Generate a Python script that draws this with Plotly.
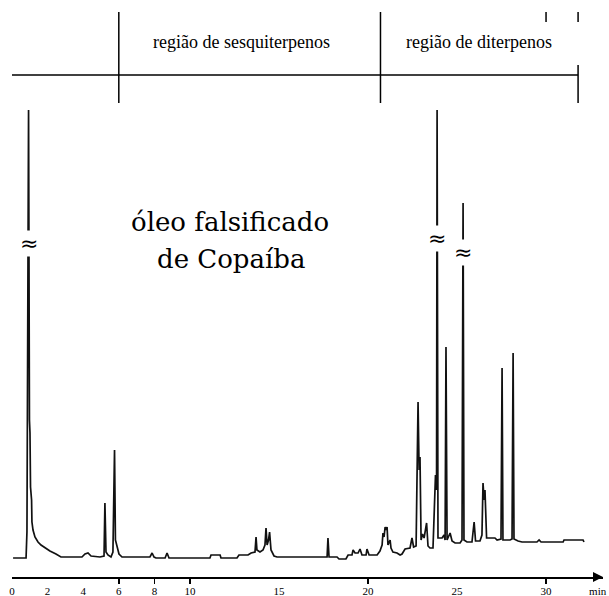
import plotly.graph_objects as go

# ---- chromatogram data (time in min, detector signal in arbitrary units) ----
time_min = [0.06, 0.79, 0.84, 0.93, 0.98, 1.01, 1.04, 1.10, 1.12, 1.18, 1.29, 1.46, 1.63, 1.85,
            2.13, 2.47, 2.75, 3.93, 4.10, 4.27, 4.44, 4.94, 5.17, 5.22, 5.28, 5.39, 5.56, 5.67,
            5.76, 5.81, 5.90, 6.01, 6.18, 7.75, 7.87, 7.98, 8.09, 8.60, 8.71, 8.82, 11.12, 11.18,
            11.69, 11.74, 12.64, 12.75, 13.26, 13.43, 13.65, 13.71, 13.76, 13.93, 14.10, 14.21,
            14.27, 14.33, 14.41, 14.47, 14.55, 14.72, 14.89, 17.70, 17.75, 17.81, 18.26, 18.37,
            18.76, 18.88, 19.10, 19.16, 19.27, 19.44, 19.55, 19.66, 19.89, 19.94, 20.06, 20.51,
            20.67, 20.79, 20.84, 20.90, 20.96, 21.01, 21.07, 21.12, 21.24, 21.29, 21.40, 21.63,
            21.80, 21.91, 22.08, 22.36, 22.47, 22.56, 22.70, 22.81, 22.87, 22.92, 22.98, 23.06,
            23.15, 23.29, 23.37, 23.48, 23.65, 23.79, 23.85, 23.88, 23.93, 24.16, 24.27, 24.33,
            24.38, 24.44, 24.61, 24.72, 24.89, 25.17, 25.28, 25.34, 25.39, 25.56, 25.84, 25.96,
            26.04, 26.29, 26.40, 26.46, 26.52, 26.57, 26.66, 27.13, 27.25, 27.47, 27.53, 27.58,
            27.98, 28.09, 28.15, 28.20, 28.43, 28.65, 29.49, 29.61, 29.72, 30.96, 31.01, 32.08,
            32.13]
signal = [19, 19, 45, 467, 157, 144, 90, 77, 55, 47, 40, 35, 32, 29,
          26, 23, 20, 20, 23, 24, 21, 20, 21, 74, 25, 22, 20, 25,
          127, 37, 31, 23, 20, 20, 24, 20, 19, 19, 24, 19, 19, 22,
          22, 19, 19, 22, 22, 24, 25, 40, 27, 25, 27, 32,
          49, 32, 37, 45, 27, 21, 20, 20, 39, 20, 20, 18,
          18, 22, 22, 27, 24, 24, 28, 22, 22, 28, 22, 22,
          26, 32, 44, 40, 50, 47, 50, 32, 37, 29, 25, 24,
          22, 23, 28, 29, 39, 30, 31, 175, 107, 120, 37, 43,
          39, 54, 31, 29, 29, 102, 87, 467, 39, 39, 42, 37,
          230, 37, 44, 36, 34, 34, 37, 374, 37, 35, 35, 55,
          36, 36, 42, 94, 77, 87, 39, 39, 37, 38, 209, 37,
          37, 38, 224, 38, 36, 35, 35, 37, 35, 35, 37, 37,
          35]

# ---- axis ticks ----
tick_vals = [0, 2, 4, 6, 8, 10, 15, 20, 25, 30, 32.9]
tick_text = ["0", "2", "4", "6", "8", "10", "15", "20", "25", "30", "min"]
marked_ticks = [6, 8, 10, 20, 30]

# ---- retention regions ----
region_names = ["região de sesquiterpenos", "região de diterpenos"]
region_bounds = [0.0, 6.0, 20.7, 31.8]
region_label_x = [12.9, 26.25]
top_marks = [30.0, 31.8]

# ---- broken (off-scale) peaks ----
break_times = [0.93, 23.88, 25.34]
break_levels = [334, 339, 325]

sample_lines = ["óleo falsificado", "de Copaíba"]

X_MAX = 33.2
Y_MAX = 577
BAR_Y = 502      # level of the region bar
BAR_TOP = 565
BAR_BOT = 474

fig = go.Figure()
fig.add_trace(go.Scatter(x=time_min, y=signal, mode="lines",
                         line=dict(color="#111111", width=1.7),
                         hoverinfo="skip", showlegend=False))
# helper trace for the overlay axis with tick marks
fig.add_trace(go.Scatter(x=[], y=[], xaxis="x2", showlegend=False))

shapes = []
shapes.append(dict(type="line", xref="x", yref="y", x0=region_bounds[0], x1=region_bounds[-1],
                   y0=BAR_Y, y1=BAR_Y, line=dict(color="black", width=1.5)))
for b in region_bounds[1:3]:
    shapes.append(dict(type="line", xref="x", yref="y", x0=b, x1=b, y0=BAR_BOT, y1=BAR_TOP,
                       line=dict(color="black", width=1.5)))
shapes.append(dict(type="line", xref="x", yref="y", x0=region_bounds[-1], x1=region_bounds[-1],
                   y0=BAR_BOT, y1=BAR_Y + 10, line=dict(color="black", width=1.5)))
for m in top_marks:
    shapes.append(dict(type="line", xref="x", yref="y", x0=m, x1=m, y0=BAR_TOP - 10, y1=BAR_TOP,
                       line=dict(color="black", width=1.5)))

annotations = []
for name, xl in zip(region_names, region_label_x):
    annotations.append(dict(x=xl, y=535, xref="x", yref="y", text=name,
                            showarrow=False, font=dict(family="Liberation Serif", size=18, color="black")))
for t, lv in zip(break_times, break_levels):
    annotations.append(dict(x=t, y=lv, xref="x", yref="y", text="≈", showarrow=False,
                            bgcolor="white", borderpad=0,
                            font=dict(family="DejaVu Sans", size=22, color="black")))
annotations.append(dict(x=6.57, y=355, xref="x", yref="y", text=sample_lines[0], showarrow=False,
                        xanchor="left", font=dict(family="DejaVu Serif", size=26, color="black")))
annotations.append(dict(x=8.03, y=318, xref="x", yref="y", text=sample_lines[1], showarrow=False,
                        xanchor="left", font=dict(family="DejaVu Serif", size=26, color="black")))
annotations.append(dict(x=X_MAX, y=0, xref="x", yref="y", ax=-8, ay=0, text="", showarrow=True,
                        arrowhead=2, arrowsize=1, arrowwidth=2, arrowcolor="black"))

fig.update_layout(
    width=609, height=596,
    margin=dict(l=12, r=6, t=0, b=19),
    paper_bgcolor="white", plot_bgcolor="white",
    shapes=shapes, annotations=annotations,
    xaxis=dict(range=[0, X_MAX], showgrid=False, zeroline=False, showline=True, automargin=False,
               linecolor="black", linewidth=1.5, tickmode="array", tickvals=tick_vals,
               ticktext=tick_text, ticks="outside", ticklen=3, tickcolor="rgba(0,0,0,0)",
               tickfont=dict(family="Liberation Serif", size=11, color="black")),
    xaxis2=dict(range=[0, X_MAX], overlaying="x", anchor="y", side="bottom", automargin=False,
                showgrid=False, zeroline=False, showline=False, tickmode="array",
                tickvals=marked_ticks, ticks="outside", ticklen=6, tickwidth=1.5,
                tickcolor="black", showticklabels=False),
    yaxis=dict(range=[0, Y_MAX], visible=False, fixedrange=True, automargin=False),
)

fig.write_html("out.html", config={"displayModeBar": False, "staticPlot": True},
               post_script="document.body.style.margin='0';document.body.style.overflow='hidden';")
